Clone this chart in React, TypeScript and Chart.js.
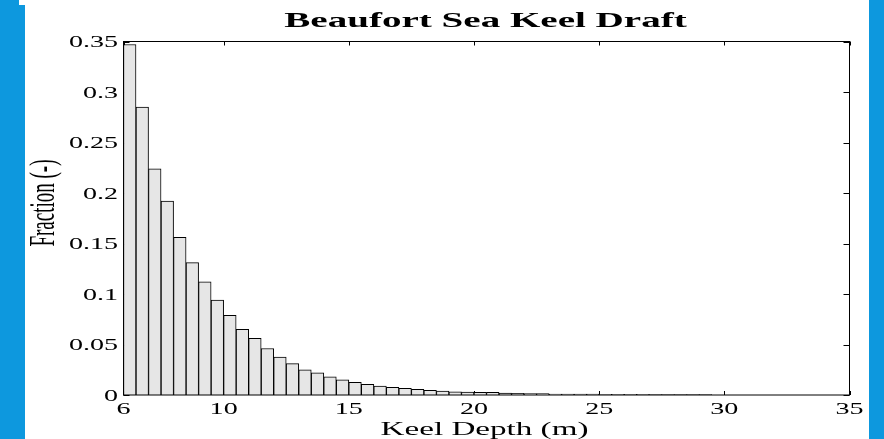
import { useEffect, useRef } from "react";
import { Chart, registerables } from "chart.js";

Chart.register(...registerables);

// Histogram bins (left edge of each 0.5 m bin, metres)
const binStart = [
  6, 6.5, 7, 7.5, 8, 8.5, 9, 9.5, 10, 10.5, 11, 11.5, 12, 12.5, 13, 13.5,
  14, 14.5, 15, 15.5, 16, 16.5, 17, 17.5, 18, 18.5, 19, 19.5, 20, 20.5, 21,
  21.5, 22, 22.5, 23, 23.5, 24, 24.5, 25, 25.5, 26, 26.5, 27, 27.5, 28, 28.5, 29,
];
const BIN_WIDTH = 0.5;

// Fraction of keels falling in each bin
const fraction = [
  0.347, 0.285, 0.224, 0.192, 0.156, 0.131, 0.112, 0.094, 0.079, 0.065, 0.056,
  0.046, 0.0375, 0.031, 0.025, 0.022, 0.018, 0.015, 0.0126, 0.0106, 0.0089,
  0.0076, 0.0066, 0.0056, 0.0046, 0.004, 0.0031, 0.003, 0.0027, 0.0026, 0.0018,
  0.0016, 0.0015, 0.0014, 0.001, 0.0009, 0.0008, 0.0008, 0.0007, 0.0007, 0.0006,
  0.0006, 0.0005, 0.0005, 0.0005, 0.0004, 0.0004,
];

const xTicks = [6, 10, 15, 20, 25, 30, 35];
const xTickLabels = ["6", "10", "15", "20", "25", "30", "35"];
const yTicks = [0, 0.05, 0.1, 0.15, 0.2, 0.25, 0.3, 0.35];
const yTickLabels = ["0", "0.05", "0.1", "0.15", "0.2", "0.25", "0.3", "0.35"];

const titleText = "Beaufort Sea Keel Draft";
const xTitleText = "Keel Depth (m)";
const yTitleText = "Fraction (-)";

const SERIF = '"Liberation Serif", "Times New Roman", serif';

// Draws text widened horizontally by sx (optionally rotated for the y title)
function wideText(
  ctx: CanvasRenderingContext2D,
  text: string,
  x: number,
  y: number,
  font: string,
  sx: number,
  align: CanvasTextAlign,
  rotate = false
) {
  ctx.save();
  ctx.translate(x, y);
  ctx.scale(sx, 1);
  if (rotate) ctx.rotate(-Math.PI / 2);
  ctx.font = font;
  ctx.fillStyle = "#000";
  ctx.textAlign = align;
  ctx.textBaseline = "alphabetic";
  ctx.fillText(text, 0, 0);
  ctx.restore();
}

const matlabAxes = {
  id: "matlabAxes",
  beforeDatasetsDraw(chart: any) {
    const { ctx, chartArea: a, scales } = chart;
    const xs = scales.x;
    const ys = scales.y;
    ctx.save();
    ctx.strokeStyle = "#000";
    ctx.lineWidth = 1;
    ctx.beginPath();
    for (const v of xTicks) {
      const px = Math.round(xs.getPixelForValue(v)) + 0.5;
      ctx.moveTo(px, a.bottom);
      ctx.lineTo(px, a.bottom - 4);
      ctx.moveTo(px, a.top);
      ctx.lineTo(px, a.top + 4);
    }
    for (const v of yTicks) {
      const py = Math.round(ys.getPixelForValue(v)) + 0.5;
      ctx.moveTo(a.left, py);
      ctx.lineTo(a.left + 6, py);
      ctx.moveTo(a.right, py);
      ctx.lineTo(a.right - 6, py);
    }
    ctx.stroke();
    ctx.restore();
  },
  afterDatasetsDraw(chart: any) {
    const { ctx, chartArea: a } = chart;
    ctx.save();
    ctx.strokeStyle = "#000";
    ctx.lineWidth = 1;
    ctx.strokeRect(a.left, a.top, a.right - a.left, a.bottom - a.top);
    ctx.restore();
  },
  afterDraw(chart: any) {
    const { ctx, chartArea: a, scales } = chart;
    const xs = scales.x;
    const ys = scales.y;
    const tickFont = `17px ${SERIF}`;
    xTicks.forEach((v, i) => {
      wideText(ctx, xTickLabels[i], xs.getPixelForValue(v), a.bottom + 18.5, tickFont, 1.65, "center");
    });
    yTicks.forEach((v, i) => {
      wideText(ctx, yTickLabels[i], a.left - 5.5, ys.getPixelForValue(v) + 5.8, tickFont, 1.65, "right");
    });
    const cx = (a.left + a.right) / 2;
    wideText(ctx, titleText, cx - 1, 27, `bold 21px ${SERIF}`, 1.86, "center");
    wideText(ctx, xTitleText, cx - 2, a.bottom + 39.5, `18px ${SERIF}`, 1.84, "center");
    wideText(ctx, yTitleText, 54, 203, `19px ${SERIF}`, 1.87, "center", true);
  },
};

export default function App() {
  const canvasRef = useRef<HTMLCanvasElement | null>(null);

  useEffect(() => {
    const canvas = canvasRef.current;
    if (!canvas) return;
    const chart = new Chart(canvas, {
      type: "bar",
      data: {
        datasets: [
          {
            data: binStart.map((b, i) => ({ x: b + BIN_WIDTH / 2, y: fraction[i] })),
            backgroundColor: "#e6e6e6",
            borderColor: "#000",
            borderWidth: 1,
            barPercentage: 1,
            categoryPercentage: 1,
          },
        ],
      },
      options: {
        animation: false,
        responsive: false,
        devicePixelRatio: 1,
        layout: { padding: { left: 123.5, right: 34.5, top: 41.5, bottom: 44 } },
        scales: {
          x: { type: "linear", min: 6, max: 35, offset: false, display: false },
          y: { type: "linear", min: 0, max: 0.35, display: false },
        },
        plugins: {
          legend: { display: false },
          title: { display: false },
          tooltip: { enabled: false },
        },
      },
      plugins: [matlabAxes],
    });
    return () => chart.destroy();
  }, []);

  return (
    <div
      style={{
        position: "fixed",
        left: 0,
        top: 0,
        width: 884,
        height: 439,
        background: "#fff",
        overflow: "hidden",
      }}
    >
      <canvas ref={canvasRef} width={884} height={439} style={{ position: "absolute", left: 0, top: 0 }} />
      <div style={{ position: "absolute", left: 0, top: 0, width: 19, height: 439, background: "#0d98de" }} />
      <div style={{ position: "absolute", left: 19, top: 5, width: 6, height: 434, background: "#0d98de" }} />
      <div style={{ position: "absolute", left: 869, top: 0, width: 15, height: 439, background: "#0d98de" }} />
    </div>
  );
}
